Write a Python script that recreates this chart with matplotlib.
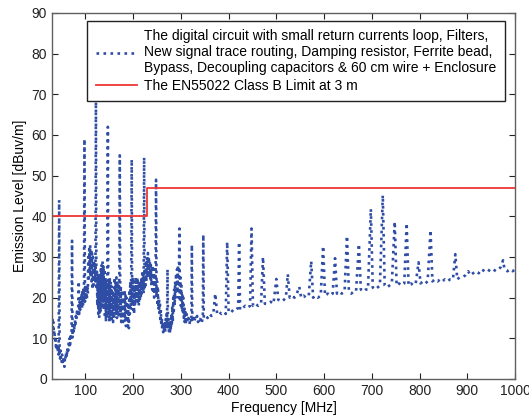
"""
Radiated emission scan vs EN55022 Class B limit (3 m).
Single figure: out.png
"""

import matplotlib
matplotlib.use("Agg")
import matplotlib.pyplot as plt

plt.rcParams.update({
    "font.family": ["Liberation Sans", "DejaVu Sans"],
    "font.size": 10,
})

# ---------------------------------------------------------------------------
# Data (frequency in MHz, level in dBuV/m)
# ---------------------------------------------------------------------------

# measured trace, spikes included as single high points
scan = [
    (30, 13.5), (31, 15), (32, 12.5), (33, 14), (34, 11), (35, 12), (36, 9.5),
    (37, 10.5), (38, 8), (39, 9), (40, 7), (41, 8.5), (42, 6.5), (43, 7.5),
    (44, 6), (45, 44), (46, 6), (47, 5), (48, 7), (49, 5), (50, 4), (51, 6),
    (52, 4.5), (53, 3.5), (54, 5.5), (55, 4), (56, 3), (57, 5), (58, 4.5),
    (59, 6.5), (60, 5), (61, 7), (62, 6), (63, 8), (64, 7), (65, 9), (66, 8),
    (67, 10), (68, 8.5), (69, 10.5), (70, 9.5), (71, 11), (72, 34), (73, 10),
    (74, 12), (75, 11), (76, 13), (77, 12), (78, 14.5), (79, 13), (80, 15.5),
    (81, 14.5), (82, 16.5), (83, 15.5), (84, 17), (85, 16), (86, 24), (87, 16),
    (88, 19), (89, 17), (90, 20), (91, 18), (92, 21), (93, 17.5), (94, 22),
    (95, 18), (96, 22.5), (97, 19), (98, 59), (99, 19), (100, 23), (101, 20),
    (102, 22), (103, 19.5), (104, 23), (105, 21), (106, 30), (107, 24),
    (108, 32), (109, 26), (110, 33), (111, 25), (112, 32), (113, 24), (114, 31),
    (115, 22), (116, 30), (117, 23), (118, 29), (119, 25), (120, 28), (121, 24),
    (122, 69), (123, 22), (124, 27), (125, 18), (126, 26), (127, 16), (128, 25),
    (129, 15), (130, 26), (131, 16), (132, 27), (133, 17), (134, 28), (135, 18),
    (136, 29), (137, 19), (138, 28), (139, 17), (140, 27), (141, 15), (142, 25),
    (143, 14), (144, 24), (145, 15), (146, 23), (147, 62), (148, 16), (149, 24),
    (150, 14), (151, 25), (152, 15), (153, 24), (154, 14), (155, 23), (156, 15),
    (157, 22), (158, 14), (159, 21), (160, 15), (161, 25), (162, 17), (163, 24),
    (164, 16), (165, 25), (166, 15), (167, 24), (168, 16), (169, 23), (170, 15),
    (171, 22), (172, 55), (173, 16), (174, 23), (175, 14), (176, 22), (177, 15),
    (178, 21), (179, 14), (180, 20), (181, 15), (182, 22), (183, 14), (184, 21),
    (185, 13), (186, 20), (187, 14), (188, 19), (189, 13), (190, 18),
    (191, 12.5), (192, 22), (193, 16), (194, 24), (195, 17), (196, 25),
    (197, 54), (198, 18), (199, 25), (200, 17), (201, 24), (202, 16), (203, 23),
    (204, 18), (205, 25), (206, 19), (207, 24), (208, 20), (209, 25), (210, 19),
    (211, 24), (212, 18), (213, 23), (214, 19), (215, 24), (216, 20), (217, 25),
    (218, 21), (219, 26), (220, 22), (221, 25), (222, 21), (223, 54.5),
    (224, 22), (225, 27), (226, 23), (227, 29), (228, 24), (229, 30), (230, 25),
    (231, 31), (232, 26), (233, 30), (234, 25), (235, 29), (236, 24), (237, 28),
    (238, 23), (239, 27), (240, 22), (241, 28), (242, 21), (243, 27), (244, 20),
    (245, 26), (246, 21), (247, 25), (248, 49), (249, 20), (250, 24), (251, 18),
    (252, 22), (253, 17), (254, 20), (255, 16), (256, 19), (257, 14), (258, 17),
    (259, 13), (260, 15), (261, 12), (262, 14), (263, 11.5), (264, 13.5),
    (265, 12), (266, 14), (267, 11.5), (268, 15), (269, 12), (270, 16),
    (271, 13), (272, 27), (273, 12), (274, 15), (275, 11.5), (276, 14),
    (277, 11), (278, 14), (279, 12), (280, 16), (281, 13), (282, 18), (283, 14),
    (284, 20), (285, 16), (286, 22), (287, 18), (288, 24), (289, 20), (290, 26),
    (291, 21), (292, 27), (293, 22), (294, 28), (295, 20), (296, 26), (297, 37),
    (298, 19), (299, 25), (300, 18), (301, 23), (302, 17), (303, 21), (304, 16),
    (305, 20), (306, 15), (307, 18), (308, 14), (309, 17), (310, 13.5),
    (312, 16), (314, 14), (316, 15), (318, 13.5), (320, 15), (322, 14),
    (323, 33), (324, 14), (326, 15), (328, 14), (330, 15), (332, 14.5),
    (334, 15.5), (336, 14), (338, 15), (340, 14.5), (342, 15), (344, 14),
    (346, 15.5), (347, 35.5), (348, 15), (352, 15.5), (356, 15), (360, 16),
    (364, 15.5), (368, 16), (372, 21), (376, 16), (380, 16.5), (385, 16),
    (390, 16.5), (394, 16), (397, 33.7), (400, 16.5), (405, 17), (410, 16.5),
    (415, 17), (420, 17.5), (422, 33.7), (424, 17), (430, 17.5), (435, 18),
    (440, 17.5), (445, 18), (448, 37), (451, 18), (456, 18.5), (462, 18),
    (468, 18.5), (472, 30), (476, 18.5), (482, 18.5), (488, 19), (494, 18.5),
    (500, 24.6), (504, 19.5), (510, 19), (516, 19.5), (520, 20), (524, 25.8),
    (528, 20), (533, 20.5), (538, 20), (543, 21), (548, 22.7), (552, 20),
    (557, 20.5), (562, 20), (568, 20.5), (573, 29), (577, 20), (582, 20.5),
    (587, 20), (593, 20.5), (598, 32.7), (602, 20.5), (608, 21), (613, 20.5),
    (618, 21), (623, 29.7), (627, 21), (632, 21.5), (637, 21), (643, 21.5),
    (648, 35.2), (652, 21.5), (657, 21), (662, 21.5), (667, 21.5), (673, 33.2),
    (677, 22), (682, 21.5), (687, 22), (692, 22), (698, 41.8), (702, 22.5),
    (707, 22), (712, 22.5), (717, 23), (723, 45.2), (727, 23), (732, 22.5),
    (737, 23), (742, 23.5), (748, 38.7), (752, 23), (757, 23.5), (762, 23),
    (768, 23.5), (773, 38.3), (777, 23), (782, 23.5), (787, 23), (792, 23.5),
    (798, 28.7), (802, 23.5), (807, 24), (812, 23.5), (817, 24), (823, 36.6),
    (827, 24), (832, 24.5), (838, 24), (843, 24.5), (848, 24), (853, 24.5),
    (858, 24), (864, 24.5), (870, 24.5), (875, 30.7), (879, 24.5), (884, 25),
    (890, 25), (896, 25.5), (902, 26.5), (906, 25.5), (912, 26), (918, 26.5),
    (924, 26), (930, 27), (936, 26.5), (942, 27), (948, 26.5), (954, 27),
    (960, 26.5), (966, 27), (970, 27.5), (975, 29.2), (978, 27), (984, 26.5),
    (990, 27), (995, 26.5), (1000, 27),
]
scan_freq = [f for f, _ in scan]
scan_level = [v for _, v in scan]

# EN55022 class B, 3 m: 40 dB up to 230 MHz, 47 dB above
limit_freq = [30, 230, 230, 1000]
limit_level = [40, 40, 47, 47]

scan_label = ("The digital circuit with small return currents loop, Filters,\n"
              "New signal trace routing, Damping resistor, Ferrite bead,\n"
              "Bypass, Decoupling capacitors & 60 cm wire + Enclosure")
limit_label = "The EN55022 Class B Limit at 3 m"

x_ticks = [100, 200, 300, 400, 500, 600, 700, 800, 900, 1000]
y_ticks = [0, 10, 20, 30, 40, 50, 60, 70, 80, 90]

# ---------------------------------------------------------------------------
# Plot
# ---------------------------------------------------------------------------

fig = plt.figure(figsize=(5.29, 4.2), dpi=100)
ax = fig.add_axes([52 / 529, 41 / 420, 463 / 529, 366 / 420])

ax.plot(scan_freq, scan_level, color="#2f4da5", linestyle=":",
        linewidth=1.9, label=scan_label)
ax.plot(limit_freq, limit_level, color="#f03535", linewidth=1.3,
        label=limit_label)

ax.set_xlim(30, 1000)
ax.set_ylim(0, 90)
ax.set_xticks(x_ticks)
ax.set_yticks(y_ticks)
ax.tick_params(direction="in", top=True, right=True, length=4,
               labelsize=10, colors="#222222")
for sp in ax.spines.values():
    sp.set_color("#606060")
    sp.set_linewidth(1.0)

ax.set_xlabel("Frequency [MHz]", fontsize=10, labelpad=2)
ax.set_ylabel("Emission Level [dBuv/m]", fontsize=10, labelpad=3)

leg = ax.legend(loc="upper right", bbox_to_anchor=(0.978, 0.979),
                borderaxespad=0, fancybox=False, framealpha=1,
                edgecolor="#222222", fontsize=10, handlelength=3.0,
                handletextpad=0.5, labelspacing=0.25, borderpad=0.6)
leg.get_frame().set_linewidth(1.0)

fig.savefig("out.png", dpi=100)
